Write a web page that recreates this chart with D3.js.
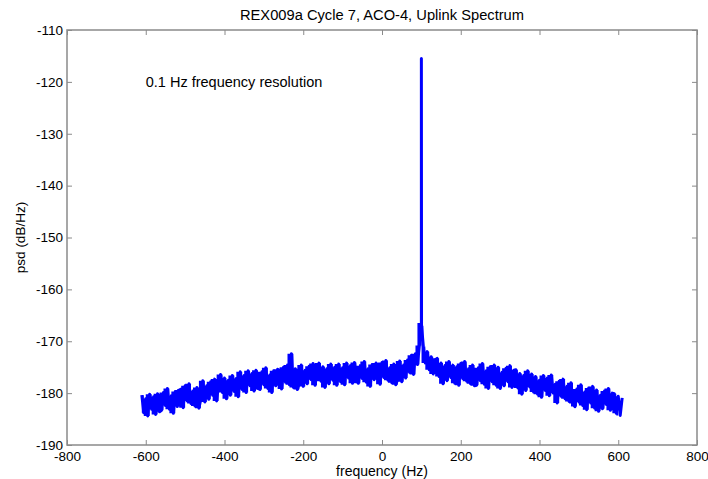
<!DOCTYPE html>
<html>
<head>
<meta charset="utf-8">
<script src="https://cdn.jsdelivr.net/npm/d3@7"></script>
<style>
  body { margin: 0; background: #fff; }
  svg { font-family: "Liberation Sans", Arial, Helvetica, sans-serif; }
</style>
</head>
<body>
<script>
// spectrum on a 5 Hz grid, -610 .. 610 Hz
var freqStart = -610, freqStep = 5;
var psd = [
  -180.4, -183.8, -181.1, -184.4, -180.2, -183.1, -180.7, -184.1, -180.1, -183.6,
  -183.3, -179.9, -182.4, -179.1, -183.1, -180.5, -183.9, -179.7, -182.6, -179.4,
  -179.2, -182.8, -178.6, -181.5, -178.2, -182.0, -179.6, -182.5, -178.9, -182.9,
  -181.1, -177.6, -181.7, -178.6, -181.2, -177.8, -180.4, -177.3, -181.5, -178.2,
  -176.4, -179.9, -177.1, -181.1, -177.5, -180.4, -176.6, -179.7, -177.2, -180.7,
  -175.9, -179.3, -176.6, -179.9, -175.7, -178.6, -176.2, -179.6, -175.6, -179.1,
  -179.3, -175.9, -178.4, -175.1, -179.1, -176.5, -179.9, -175.7, -178.6, -175.4,
  -175.6, -179.2, -175.0, -177.9, -174.6, -178.4, -172.4, -178.9, -175.3, -179.3,
  -178.1, -174.6, -178.7, -175.6, -178.2, -174.8, -177.4, -174.3, -178.5, -175.2,
  -174.2, -177.7, -174.9, -178.9, -175.3, -178.2, -174.4, -177.5, -175.0, -178.5,
  -174.4, -177.8, -175.1, -178.4, -174.2, -177.1, -174.7, -178.1, -174.1, -177.6,
  -178.1, -174.7, -177.2, -173.9, -177.9, -175.3, -178.7, -174.5, -177.4, -174.2,
  -174.7, -178.3, -174.1, -177.0, -173.7, -177.5, -175.1, -178.0, -174.4, -178.4,
  -177.3, -173.8, -177.8, -174.6, -177.1, -173.6, -176.0, -172.7, -176.4, -172.4,
  -174.5, -170.8, -169.3, -171.0, -174.2, -172.0, -175.5, -173.0, -176.3, -173.6,
  -173.3, -176.8, -174.2, -178.2, -174.7, -177.6, -173.9, -177.0, -174.6, -178.1,
  -174.9, -178.5, -174.3, -177.2, -173.9, -177.7, -175.3, -178.2, -174.6, -178.6,
  -178.5, -175.1, -177.6, -174.3, -178.3, -175.7, -179.1, -174.9, -177.8, -174.6,
  -178.5, -175.0, -179.1, -176.0, -178.6, -175.2, -177.8, -174.7, -178.9, -175.6,
  -175.5, -179.0, -176.2, -180.2, -176.6, -179.5, -175.7, -178.8, -176.3, -179.8,
  -176.8, -180.2, -177.5, -180.8, -176.6, -179.5, -177.1, -180.5, -176.5, -180.0,
  -178.3, -181.9, -177.7, -180.6, -177.3, -181.1, -178.7, -181.6, -178.0, -182.0,
  -182.6, -179.2, -181.7, -178.4, -182.4, -179.8, -183.2, -179.0, -181.9, -178.7,
  -182.9, -179.4, -183.5, -180.4, -183.0, -179.6, -182.2, -179.1, -183.3, -180.0,
  -180.1, -183.9, -180.6, -184.3, -180.9
];

// carrier line at 100 Hz
var peakFreq = [99.6, 100, 100.4];
var peakPsd = [-166.5, -115.5, -167.0];

var xTicks = [-800, -600, -400, -200, 0, 200, 400, 600, 800];
var yTicks = [-190, -180, -170, -160, -150, -140, -130, -120, -110];

var title = "REX009a Cycle 7, ACO-4, Uplink Spectrum";
var note = "0.1 Hz frequency resolution";

var width = 708, height = 479;

var data = psd.map(function (v, i) { return { f: freqStart + i * freqStep, p: v }; });
peakFreq.forEach(function (f, i) { data.push({ f: f, p: peakPsd[i] }); });
data.sort(function (a, b) { return a.f - b.f; });

// span covered by a few neighbouring samples, so the thick trace reads solid
var band = data.slice(0, -2).map(function (d, i) {
    var w = [d.p, data[i + 1].p, data[i + 2].p];
    if (d3.max(w) > -160) w = [d.p, data[i + 1].p];   // leave the carrier to the line
    return { f: d.f, hi: d3.max(w), lo: d3.min(w) };
});

var svg = d3.select("body").append("svg")
    .attr("width", width)
    .attr("height", height);

var x = d3.scaleLinear().domain([-800, 800]).range([67, 697]);
var y = d3.scaleLinear().domain([-190, -110]).range([445, 30]);

// plain hyphen minus like the original
var fmt = function (d) { return String(d); };

function styleAxis(g) {
    g.attr("font-family", null);
    g.select(".domain").remove();
    g.selectAll(".tick line").attr("stroke", "#8a8a8a");
    g.selectAll(".tick text").attr("fill", "#000").style("font-size", "13.5px");
}

svg.append("g")
    .attr("transform", "translate(0," + y(-190) + ")")
    .call(d3.axisBottom(x).tickValues(xTicks).tickFormat(fmt).tickSizeInner(-5).tickSizeOuter(0).tickPadding(6))
    .call(styleAxis);

svg.append("g")
    .attr("transform", "translate(0," + y(-110) + ")")
    .call(d3.axisTop(x).tickValues(xTicks).tickSizeInner(-5).tickSizeOuter(0).tickFormat(""))
    .call(styleAxis);

svg.append("g")
    .attr("transform", "translate(" + x(-800) + ",0)")
    .call(d3.axisLeft(y).tickValues(yTicks).tickFormat(fmt).tickSizeInner(-5).tickSizeOuter(0).tickPadding(4))
    .call(styleAxis);

svg.append("g")
    .attr("transform", "translate(" + x(800) + ",0)")
    .call(d3.axisRight(y).tickValues(yTicks).tickSizeInner(-5).tickSizeOuter(0).tickFormat(""))
    .call(styleAxis);

// axes box
svg.append("rect")
    .attr("x", x(-800))
    .attr("y", y(-110))
    .attr("width", x(800) - x(-800))
    .attr("height", y(-190) - y(-110))
    .attr("fill", "none")
    .attr("stroke", "#8a8a8a")
    .attr("stroke-width", 1.5);

var area = d3.area()
    .curve(d3.curveStepAfter)
    .x(function (d) { return x(d.f); })
    .y0(function (d) { return y(d.lo); })
    .y1(function (d) { return y(d.hi); });

svg.append("path")
    .datum(band)
    .attr("d", area)
    .attr("fill", "#0000ff")
    .attr("stroke", "none");

var line = d3.line()
    .x(function (d) { return x(d.f); })
    .y(function (d) { return y(d.p); });

svg.append("path")
    .datum(data)
    .attr("d", line)
    .attr("fill", "none")
    .attr("stroke", "#0000ff")
    .attr("stroke-width", 3)
    .attr("stroke-linejoin", "round");

svg.append("text")
    .attr("x", x(0))
    .attr("y", 20)
    .attr("text-anchor", "middle")
    .style("font-size", "14.7px")
    .text(title);

svg.append("text")
    .attr("x", x(-600))
    .attr("y", y(-120) + 5)
    .style("font-size", "14.5px")
    .text(note);

svg.append("text")
    .attr("x", x(0))
    .attr("y", 476)
    .attr("text-anchor", "middle")
    .style("font-size", "14px")
    .text("frequency (Hz)");

svg.append("text")
    .attr("transform", "translate(25," + y(-150) + ") rotate(-90)")
    .attr("text-anchor", "middle")
    .style("font-size", "13.5px")
    .text("psd (dB/Hz)");
</script>
</body>
</html>
